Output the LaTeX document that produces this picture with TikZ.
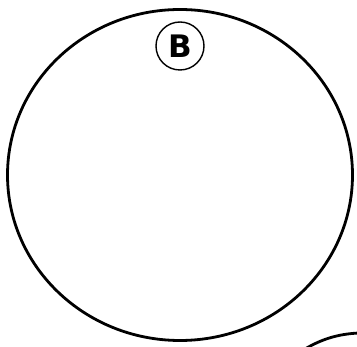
\documentclass[tikz,border=0pt]{standalone}
\usepackage{fontspec}
\setmainfont{DejaVu Sans}
\usetikzlibrary{shapes.geometric}
\begin{document}
\begin{tikzpicture}[
        x=1pt, y=-1pt,
        every node/.style={align=center},
        outline/.style={draw, line width=2.8pt, ellipse, inner sep=0pt,
                        minimum width=345pt, minimum height=331pt},
        marker/.style={draw, line width=1.4pt, circle, inner sep=0pt,
                       minimum size=48pt, font=\fontsize{31}{31}\selectfont\bfseries},
    ]
    \useasboundingbox (0,0) rectangle (357,347);

    % --- Big outline and its circled letter ---------------------------------
    \node[outline] (cell) at (180,175) {};
    \node[marker] (labelB) at (180,46) {B};

    % --- Edge of the neighbouring shape, bottom right -----------------------
    \draw[line width=2.8pt] (305,349) .. controls (322,339) and (338,334) .. (359,333);

\end{tikzpicture}
\end{document}
